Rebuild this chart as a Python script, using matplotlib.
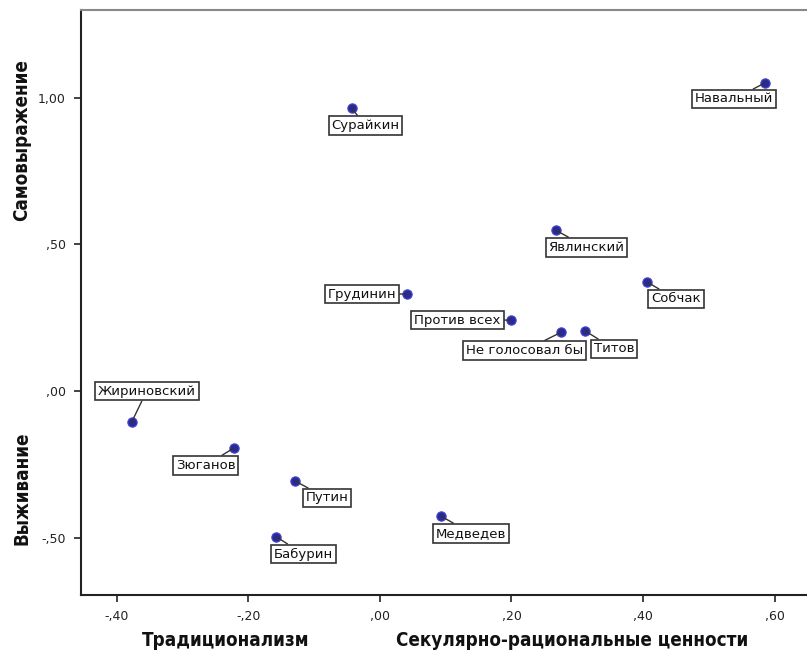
import matplotlib
matplotlib.use("Agg")
import matplotlib.pyplot as plt

names = ["Сурайкин", "Навальный", "Явлинский", "Собчак", "Грудинин", "Против всех",
         "Не голосовал бы", "Титов", "Жириновский", "Зюганов", "Путин", "Бабурин", "Медведев"]
x_vals = [-0.043, 0.585, 0.267, 0.406, 0.041, 0.200, 0.275, 0.312, -0.377, -0.222, -0.129, -0.157, 0.093]
y_vals = [0.966, 1.051, 0.549, 0.372, 0.331, 0.242, 0.200, 0.205, -0.106, -0.195, -0.307, -0.498, -0.427]
# label offsets in pixels (dx, dy), dy positive = up
label_dx = [14, -31, 31, 29, -45, -54, -36, 29, 15, -28, 32, 27, 30]
label_dy = [-18, -16, -17, -17, 0, 0, -18, -18, 31, -17, -17, -17, -17]
x_ticks = [-0.4, -0.2, 0.0, 0.2, 0.4, 0.6]
y_ticks = [-0.5, 0.0, 0.5, 1.0]

def fmt(v):
    s = f"{v:.2f}".replace(".", ",")
    s = s.replace("0,", ",", 1) if s.startswith("0,") else s.replace("-0,", "-,")
    return s

label_kw = dict(family="DejaVu Sans", weight="bold", stretch="condensed", fontsize=13.5,
                color="#111111")

fig = plt.figure(figsize=(8.07, 6.52), dpi=100)
ax = fig.add_axes([81/807, 57/652, 1 - 81/807, 585/652])
ax.set_xlim(-0.454, 0.649)
ax.set_ylim(-0.696, 1.30)

ax.scatter(x_vals, y_vals, s=45, color="#2a2a96", edgecolor="#4646d0", linewidth=0.8, zorder=3)

for n, x, y, dx, dy in zip(names, x_vals, y_vals, label_dx, label_dy):
    ax.annotate(n, xy=(x, y), xytext=(dx, dy), textcoords="offset pixels",
                ha="center", va="center", fontsize=9.5, color="#111111",
                bbox=dict(boxstyle="square,pad=0.22", fc="white", ec="#333333", lw=1.2),
                arrowprops=dict(arrowstyle="-", color="#333333", lw=1.0, shrinkA=0, shrinkB=0),
                zorder=4)

ax.set_xticks(x_ticks)
ax.set_xticklabels([fmt(v) for v in x_ticks])
ax.set_yticks(y_ticks)
ax.set_yticklabels([fmt(v) for v in y_ticks])
ax.tick_params(direction="out", length=5, width=1.2, color="#222222", labelsize=9,
               labelcolor="#222222", pad=6)

for side in ["left", "bottom"]:
    ax.spines[side].set_linewidth(1.5)
    ax.spines[side].set_color("#222222")
ax.spines["top"].set_linewidth(1.5)
ax.spines["top"].set_color("#888888")
ax.spines["right"].set_visible(False)

fig.text(142/807, 1 - 640/652, "Традиционализм", ha="left", va="center", **label_kw)
fig.text(396/807, 1 - 640/652, "Секулярно-рациональные ценности", ha="left", va="center", **label_kw)
fig.text(22/807, 1 - 140/652, "Самовыражение", ha="center", va="center", rotation=90, **label_kw)
fig.text(22/807, 1 - 488/652, "Выживание", ha="center", va="center", rotation=90, **label_kw)

fig.savefig("out.png", dpi=100)
